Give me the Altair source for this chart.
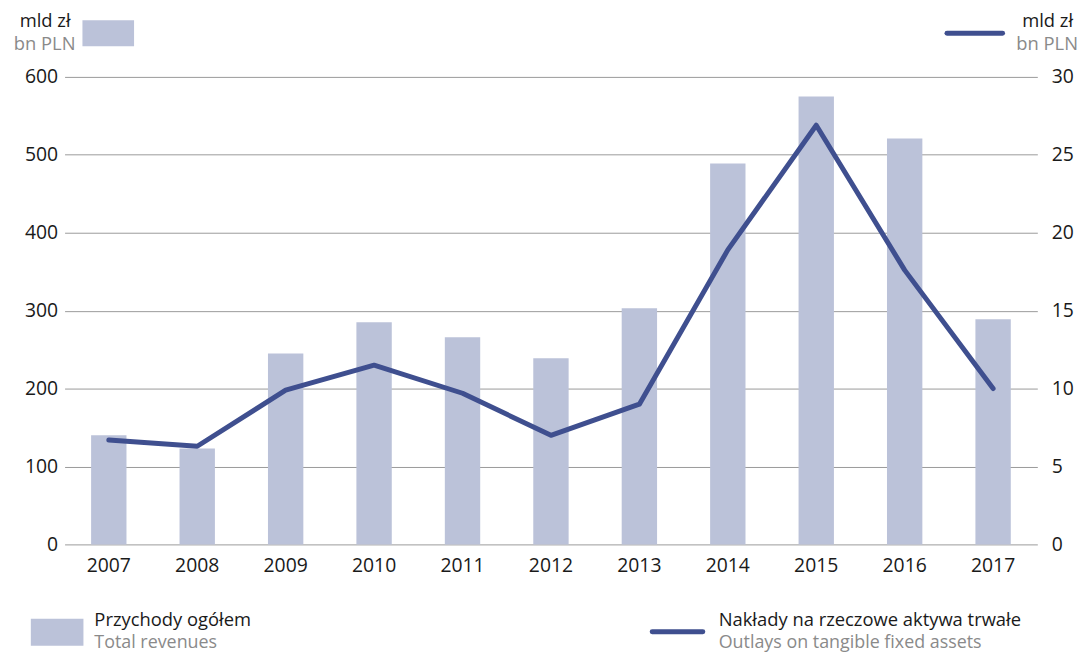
import altair as alt
import pandas as pd

years = ["2007", "2008", "2009", "2010", "2011", "2012", "2013", "2014", "2015", "2016", "2017"]
revenues = [140, 123, 245, 285, 266, 239, 303, 489, 575, 521, 289]
outlays = [6.7, 6.3, 9.9, 11.5, 9.7, 7.0, 9.0, 18.9, 26.9, 17.6, 10.0]

left_ticks = [0, 100, 200, 300, 400, 500, 600]
right_ticks = [0, 5, 10, 15, 20, 25, 30]

BAR = "#bbc2d9"
LINE = "#3f4f8f"
GRAY = "#8a8a8a"
BLACK = "#1a1a1a"
FONT = "Open Sans"
FS = 19.5
LS = 18.5

df = pd.DataFrame({"year": years, "rev": revenues, "out": outlays})

xenc = alt.X("year:N", sort=years, title=None,
             scale=alt.Scale(paddingInner=0.6, paddingOuter=0.3),
             axis=alt.Axis(labelAngle=0, domain=False, ticks=False, labelPadding=12,
                           labelFontSize=FS, labelColor=BLACK, labelFont=FONT))

bars = alt.Chart(df).mark_bar(color=BAR).encode(
    x=xenc,
    y=alt.Y("rev:Q", title=None, scale=alt.Scale(domain=[0, 600], nice=False),
            axis=alt.Axis(orient="left", values=left_ticks, grid=True, gridColor="#9a9a9a",
                          gridWidth=1, domain=False, ticks=False, labelPadding=7,
                          labelFontSize=FS, labelColor=BLACK, labelFont=FONT)),
)

line = alt.Chart(df).mark_line(color=LINE, strokeWidth=5, strokeCap="round", strokeJoin="round").encode(
    x=alt.X("year:N", sort=years),
    y=alt.Y("out:Q", title=None, scale=alt.Scale(domain=[0, 30], nice=False),
            axis=alt.Axis(orient="right", values=right_ticks, grid=False, domain=False, ticks=False,
                          labelPadding=14, labelFontSize=FS, labelColor=BLACK, labelFont=FONT)),
)

one = pd.DataFrame({"k": [0]})


def txt(s, x, y, color=BLACK, align="left", size=LS):
    return alt.Chart(one).mark_text(text=s, align=align, baseline="middle", fontSize=size,
                                    font=FONT, color=color).encode(x=alt.value(x), y=alt.value(y))


def rect(x1, x2, y1, y2, color=BAR):
    return alt.Chart(one).mark_rect(color=color).encode(
        x=alt.value(x1), x2=alt.value(x2), y=alt.value(y1), y2=alt.value(y2))


def seg(x1, x2, y):
    return alt.Chart(one).mark_rule(color=LINE, strokeWidth=5, strokeCap="round").encode(
        x=alt.value(x1), x2=alt.value(x2), y=alt.value(y))


annotations = [
    txt("mld zł", 6, -56, align="right"),
    txt("bn PLN", 11, -33, color=GRAY, align="right"),
    rect(18, 70, -57, -31),
    seg(889, 945, -44),
    txt("mld zł", 1016, -56, align="right"),
    txt("bn PLN", 1021, -33, color=GRAY, align="right"),
    rect(-34, 19, 546, 573),
    txt("Przychody ogółem", 30, 547, size=18.5),
    txt("Total revenues", 30, 570, color=GRAY, size=18),
    seg(592, 643, 559),
    txt("Nakłady na rzeczowe aktywa trwałe", 659, 547, size=18.5),
    txt("Outlays on tangible fixed assets", 659, 570, color=GRAY, size=18),
]

chart = alt.layer(bars, line, *annotations).resolve_scale(y="independent").properties(
    width=980, height=471,
    autosize=alt.AutoSizeParams(type="none"),
    padding={"left": 57, "top": 67, "right": 43, "bottom": 108},
).configure_view(stroke=None)

chart.save("out.html", embed_options={"renderer": "svg", "actions": False})
